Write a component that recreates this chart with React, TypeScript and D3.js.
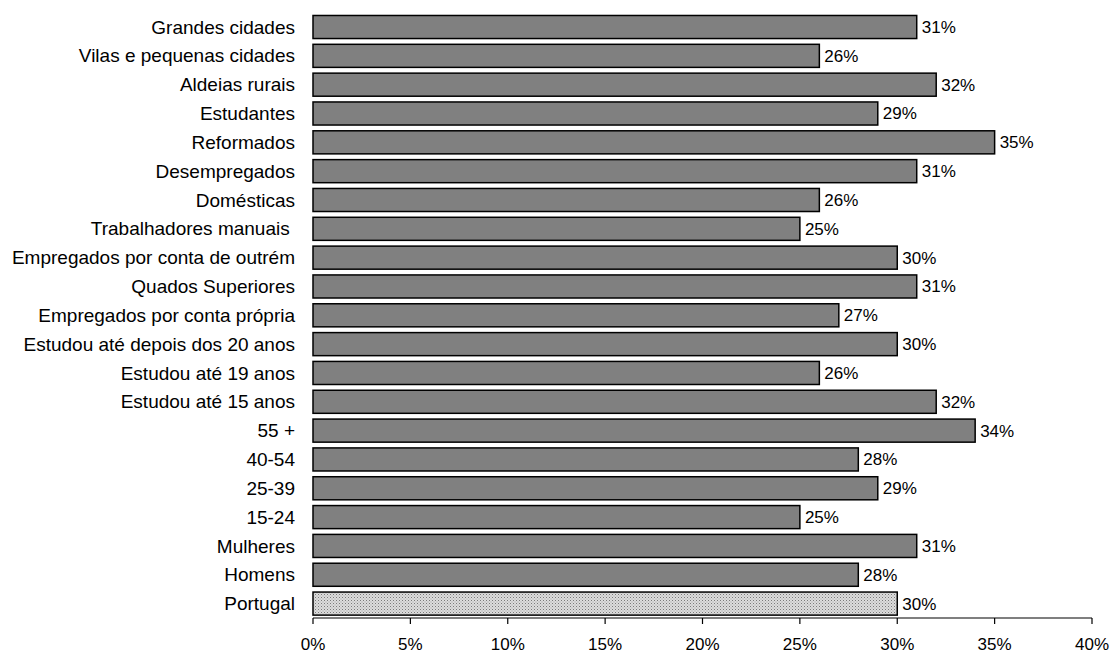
import React from "react";
import * as d3 from "d3";

const categories = [
  "Grandes cidades",
  "Vilas e pequenas cidades",
  "Aldeias rurais",
  "Estudantes",
  "Reformados",
  "Desempregados",
  "Domésticas",
  "Trabalhadores manuais ",
  "Empregados por conta de outrém",
  "Quados Superiores",
  "Empregados por conta própria",
  "Estudou até depois dos 20 anos",
  "Estudou até 19 anos",
  "Estudou até 15 anos",
  "55 +",
  "40-54",
  "25-39",
  "15-24",
  "Mulheres",
  "Homens",
  "Portugal",
];
const values = [31, 26, 32, 29, 35, 31, 26, 25, 30, 31, 27, 30, 26, 32, 34, 28, 29, 25, 31, 28, 30];
const highlighted = ["Portugal"];
const xTicks = [0, 5, 10, 15, 20, 25, 30, 35, 40];

const W = 1112;
const H = 653;
const left = 313;
const right = 1092;
const top = 12.6;
const bottom = 618;
const font = "Liberation Sans, Arial, sans-serif";

export default function App() {
  const x = d3.scaleLinear().domain([0, 40]).range([left, right]);
  const y = d3.scaleBand<string>().domain(categories).range([top, bottom]).paddingInner(0.2).paddingOuter(0.1);
  return (
    <svg width={W} height={H} style={{ position: "absolute", left: 0, top: 0 }}>
      <defs>
        <pattern id="dots" width="3" height="3" patternUnits="userSpaceOnUse">
          <rect width="3" height="3" fill="#dcdcdc" />
          <rect width="1" height="1" fill="#7a7a7a" />
          <rect x="1.5" y="1.5" width="1" height="1" fill="#a0a0a0" />
        </pattern>
      </defs>
      <rect width={W} height={H} fill="#fff" />
      {categories.map((c, i) => {
        const yy = y(c)!;
        const v = values[i];
        return (
          <g key={c}>
            <rect
              x={x(0)}
              y={yy}
              width={x(v) - x(0)}
              height={y.bandwidth()}
              fill={highlighted.includes(c) ? "url(#dots)" : "#808080"}
              stroke="#000"
              strokeWidth={1.5}
            />
            <text
              x={295}
              y={yy + y.bandwidth() / 2}
              dy="0.35em"
              textAnchor="end"
              fontFamily={font}
              fontSize={19}
              style={{ whiteSpace: "pre" }}
              xmlSpace="preserve"
            >
              {c}
            </text>
            <text
              x={x(v) + 5}
              y={yy + y.bandwidth() / 2}
              dy="0.35em"
              fontFamily={font}
              fontSize={17}
            >
              {v}%
            </text>
          </g>
        );
      })}
      <line x1={x(0)} x2={x(40)} y1={bottom} y2={bottom} stroke="#000" strokeWidth={1.2} />
      {xTicks.map((t) => (
        <g key={t}>
          <line x1={x(t)} x2={x(t)} y1={bottom} y2={bottom + 6} stroke="#000" strokeWidth={1.2} />
          <text x={x(t)} y={bottom + 32} textAnchor="middle" fontFamily={font} fontSize={17}>
            {t}%
          </text>
        </g>
      ))}
    </svg>
  );
}
